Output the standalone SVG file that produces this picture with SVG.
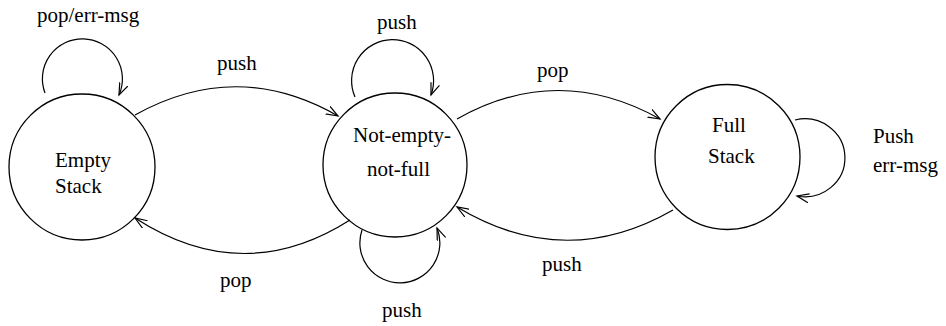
<svg xmlns="http://www.w3.org/2000/svg" width="946" height="326" viewBox="0 0 946 326">
<style>
  .node { fill: none; stroke: #000; stroke-width: 1.3; }
  .edge { fill: none; stroke: #000; stroke-width: 1.2; marker-end: url(#arr); }
</style>
<defs>
  <marker id="arr" markerUnits="userSpaceOnUse" markerWidth="14" markerHeight="10" refX="12" refY="5" orient="auto">
    <path d="M0,0.5 L12,5 L0,9.5" fill="none" stroke="#000" stroke-width="1.2"/>
  </marker>
</defs>
<rect width="946" height="326" fill="#fff"/>
<g font-family="Liberation Serif, DejaVu Serif, serif" font-size="21" fill="#000">
<g id="empty">
  <circle class="node" cx="82" cy="167" r="73"/>
  <text x="55" y="167">Empty</text>
  <text x="55" y="193">Stack</text>
</g>
<g id="notempty">
  <circle class="node" cx="395" cy="165" r="72"/>
  <text x="353" y="142">Not-empty-</text>
  <text x="367" y="176">not-full</text>
</g>
<g id="full">
  <circle class="node" cx="727.5" cy="157" r="72.5"/>
  <text x="712" y="132">Full</text>
  <text x="708" y="163">Stack</text>
</g>
<g id="connectors">
  <path class="edge" d="M 45 93 A 40 40 0 1 1 119 95"/>
  <path class="edge" d="M 135 115 Q 237 58 338 116"/>
  <path class="edge" d="M 350 220 Q 243 288 135 218"/>
  <path class="edge" d="M 355 97 A 41 41 0 1 1 431 95"/>
  <path class="edge" d="M 362 230 A 40 40 0 1 0 437 228"/>
  <path class="edge" d="M 457 119 Q 558 62 660 119"/>
  <path class="edge" d="M 673 210 Q 565 272 457 207"/>
  <path class="edge" d="M 795 120 A 40 39 0 1 1 797 196"/>
  <text x="37" y="22">pop/err-msg</text>
  <text x="217" y="70">push</text>
  <text x="220" y="287">pop</text>
  <text x="377" y="29">push</text>
  <text x="382" y="317">push</text>
  <text x="537" y="77">pop</text>
  <text x="542" y="271">push</text>
  <text x="873" y="143">Push</text>
  <text x="873" y="172">err-msg</text>
</g>
</g>
</svg>
